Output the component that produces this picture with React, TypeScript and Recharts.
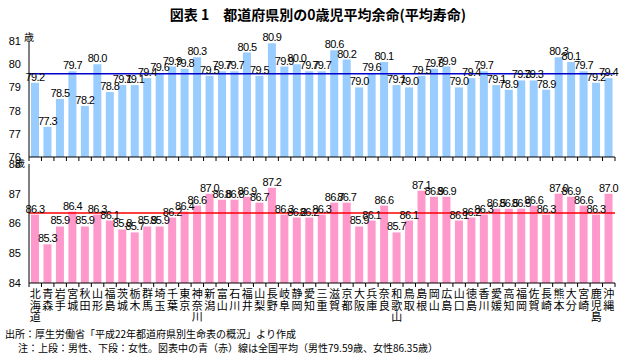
import React from 'react';
import { BarChart, Bar, XAxis, YAxis, ReferenceLine, LabelList } from 'recharts';

const prefectures = [
  '北海道', '青森', '岩手', '宮城', '秋田', '山形', '福島', '茨城', '栃木', '群馬',
  '埼玉', '千葉', '東京', '神奈川', '新潟', '富山', '石川', '福井', '山梨', '長野',
  '岐阜', '静岡', '愛知', '三重', '滋賀', '京都', '大阪', '兵庫', '奈良', '和歌山',
  '鳥取', '島根', '岡山', '広島', '山口', '徳島', '香川', '愛媛', '高知', '福岡',
  '佐賀', '長崎', '熊本', '大分', '宮崎', '鹿児島', '沖縄',
];

const maleValues = [
  79.2, 77.3, 78.5, 79.7, 78.2, 80.0, 78.8, 79.1, 79.1, 79.4,
  79.6, 79.9, 79.8, 80.3, 79.5, 79.7, 79.7, 80.5, 79.5, 80.9,
  79.9, 80.0, 79.7, 79.7, 80.6, 80.2, 79.0, 79.6, 80.1, 79.1,
  79.0, 79.5, 79.8, 79.9, 79.0, 79.4, 79.7, 79.1, 78.9, 79.3,
  79.3, 78.9, 80.3, 80.1, 79.7, 79.2, 79.4,
];

const femaleValues = [
  86.3, 85.3, 85.9, 86.4, 85.9, 86.3, 86.1, 85.8, 85.7, 85.9,
  85.9, 86.2, 86.4, 86.6, 87.0, 86.8, 86.8, 86.9, 86.7, 87.2,
  86.3, 86.2, 86.2, 86.3, 86.7, 86.7, 85.9, 86.1, 86.6, 85.7,
  86.1, 87.1, 86.9, 86.9, 86.1, 86.2, 86.3, 86.5, 86.5, 86.5,
  86.6, 86.3, 87.0, 86.9, 86.6, 86.3, 87.0,
];

const maleTicks = [76, 77, 78, 79, 80, 81];
const femaleTicks = [84, 85, 86, 87, 88];
const maleAverage = 79.59;
const femaleAverage = 86.35;

const titleText = '図表 1　都道府県別の0歳児平均余命(平均寿命)';
const unitText = '歳';
const sourceText = '出所：厚生労働省「平成22年都道府県別生命表の概況」より作成';
const noteText = '注：上段：男性、下段：女性。図表中の青（赤）線は全国平均（男性79.59歳、女性86.35歳）';

const data = prefectures.map((name, i) => ({
  name,
  male: maleValues[i],
  female: femaleValues[i],
}));

const W = 628;
const H = 358;
const PLOT_LEFT = 29;
const PLOT_RIGHT = 615;
const BAND = (PLOT_RIGHT - PLOT_LEFT) / prefectures.length;
const JP = '"Noto Sans CJK JP", "Noto Sans", sans-serif';
const NUM = '"Liberation Sans", Arial, sans-serif';

function BoundaryTick(props: any) {
  const { x, y, index, payload, showLabel } = props;
  const half = BAND / 2;
  const chars: string[] = showLabel ? Array.from(String(payload.value)) : [];
  return (
    <g>
      <line x1={x - half} x2={x - half} y1={y} y2={y + 4} stroke="#000" strokeWidth={1} />
      {index === prefectures.length - 1 && (
        <line x1={x + half} x2={x + half} y1={y} y2={y + 4} stroke="#000" strokeWidth={1} />
      )}
      {chars.map((c, k) => (
        <text
          key={k}
          x={x}
          y={y + 15 + k * 11.7}
          textAnchor="middle"
          fontSize={11}
          fontFamily={JP}
          fill="#000"
        >
          {c}
        </text>
      ))}
    </g>
  );
}

const fmt = (v: any) => Number(v).toFixed(1);

export default function App() {
  return (
    <div
      style={{
        position: 'absolute',
        left: 0,
        top: 0,
        width: W,
        height: H,
        background: '#fff',
        fontFamily: JP,
        overflow: 'hidden',
      }}
    >
      <div style={{ position: 'absolute', left: 0, top: 0 }}>
        <BarChart
          width={W}
          height={165}
          data={data}
          margin={{ top: 41, right: W - PLOT_RIGHT, bottom: 0, left: 0 }}
          barSize={8}
        >
          <XAxis
            dataKey="name"
            interval={0}
            height={8}
            tickSize={0}
            tickMargin={0}
            tickLine={false}
            axisLine={{ stroke: '#000' }}
            tick={<BoundaryTick showLabel={false} />}
          />
          <YAxis
            width={PLOT_LEFT}
            domain={[76, 81]}
            ticks={maleTicks}
            interval={0}
            tickLine={false}
            axisLine={{ stroke: '#000' }}
            tick={{ fontSize: 11, fill: '#000', fontFamily: NUM }}
            allowDataOverflow
          />
          <Bar dataKey="male" fill="#99CCFF" isAnimationActive={false}>
            <LabelList
              dataKey="male"
              position="top"
              offset={2}
              formatter={fmt}
              style={{ fontSize: 11, fill: '#000', fontFamily: NUM, letterSpacing: -0.6 }}
            />
          </Bar>
          <ReferenceLine y={maleAverage} stroke="#0000CC" strokeWidth={1.5} />
        </BarChart>
      </div>

      <div style={{ position: 'absolute', left: 0, top: 0 }}>
        <BarChart
          width={W}
          height={H}
          data={data}
          margin={{ top: 164, right: W - PLOT_RIGHT, bottom: 0, left: 0 }}
          barSize={8}
        >
          <XAxis
            dataKey="name"
            interval={0}
            height={75}
            tickSize={0}
            tickMargin={0}
            tickLine={false}
            axisLine={{ stroke: '#000' }}
            tick={<BoundaryTick showLabel={true} />}
          />
          <YAxis
            width={PLOT_LEFT}
            domain={[84, 88]}
            ticks={femaleTicks}
            interval={0}
            tickLine={false}
            axisLine={{ stroke: '#000' }}
            tick={{ fontSize: 11, fill: '#000', fontFamily: NUM }}
            allowDataOverflow
          />
          <Bar dataKey="female" fill="#FF99CC" isAnimationActive={false}>
            <LabelList
              dataKey="female"
              position="top"
              offset={2}
              formatter={fmt}
              style={{ fontSize: 11, fill: '#000', fontFamily: NUM, letterSpacing: -0.6 }}
            />
          </Bar>
          <ReferenceLine y={femaleAverage} stroke="#FF0000" strokeWidth={1.5} />
        </BarChart>
      </div>

      <svg
        width={W}
        height={H}
        style={{ position: 'absolute', left: 0, top: 0, pointerEvents: 'none' }}
      >
        <text x={318} y={20} textAnchor="middle" fontSize={14} fontWeight="bold" fontFamily={JP} fill="#000">
          {titleText}
        </text>
        <text x={24} y={41} fontSize={10} fontFamily={JP} fill="#000">{unitText}</text>
        <text x={15} y={167} fontSize={10} fontFamily={JP} fill="#000">{unitText}</text>
        <text x={5} y={338} fontSize={10} fontFamily={JP} fill="#000">{sourceText}</text>
        <text x={18} y={352} fontSize={10} fontFamily={JP} fill="#000">{noteText}</text>
      </svg>
    </div>
  );
}
